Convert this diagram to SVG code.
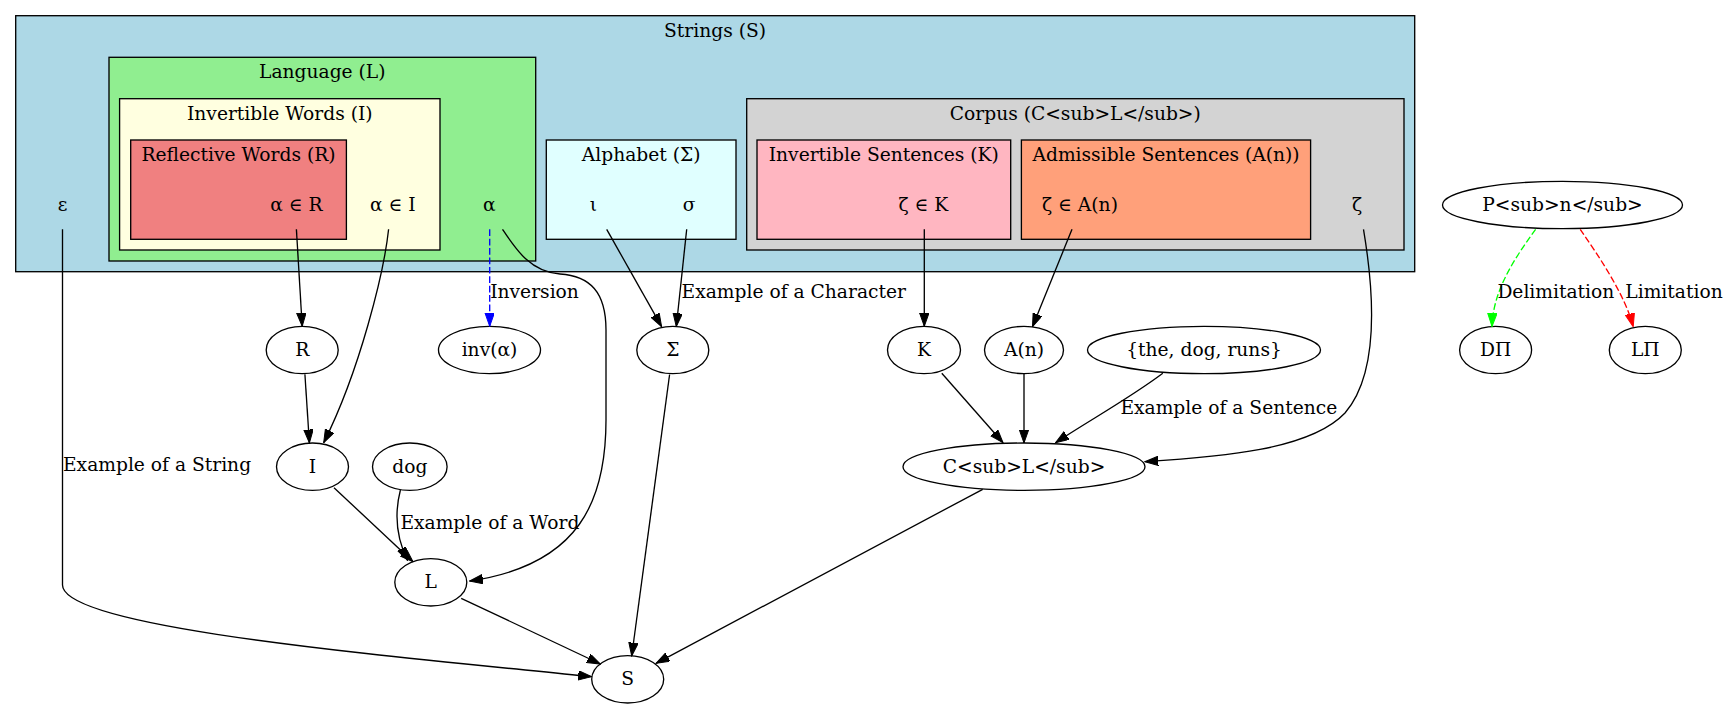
<svg xmlns="http://www.w3.org/2000/svg" width="1729" height="709" viewBox="0 0 1729 709">
<style>
text{font-family:"DejaVu Serif",serif;font-size:18.67px;fill:#000}
.c{text-anchor:middle}
.cl{stroke:#000;stroke-width:1.33}
.n ellipse{fill:#fff;stroke:#000;stroke-width:1.33}
.e{fill:none;stroke:#000;stroke-width:1.33}
.blue{stroke:#0000ff;stroke-dasharray:6.7,2.7}
.green{stroke:#00ff00;stroke-dasharray:6.7,2.7}
.red{stroke:#ff0000;stroke-dasharray:6.7,2.7}
</style>
<defs>
<marker id="ak" markerUnits="userSpaceOnUse" markerWidth="14" markerHeight="10" viewBox="0 0 14 10" refX="13.3" refY="4.7" orient="auto"><path d="M0,0 L13.3,4.7 L0,9.4 z" fill="#000" stroke="#000"/></marker>
<marker id="ab" markerUnits="userSpaceOnUse" markerWidth="14" markerHeight="10" viewBox="0 0 14 10" refX="13.3" refY="4.7" orient="auto"><path d="M0,0 L13.3,4.7 L0,9.4 z" fill="#0000ff" stroke="#0000ff"/></marker>
<marker id="ag" markerUnits="userSpaceOnUse" markerWidth="14" markerHeight="10" viewBox="0 0 14 10" refX="13.3" refY="4.7" orient="auto"><path d="M0,0 L13.3,4.7 L0,9.4 z" fill="#00ff00" stroke="#00ff00"/></marker>
<marker id="ar" markerUnits="userSpaceOnUse" markerWidth="14" markerHeight="10" viewBox="0 0 14 10" refX="13.3" refY="4.7" orient="auto"><path d="M0,0 L13.3,4.7 L0,9.4 z" fill="#ff0000" stroke="#ff0000"/></marker>
</defs>
<rect width="1729" height="709" fill="#fff"/>

<g id="cluster_S">
<rect class="cl" x="15.7" y="15.7" width="1399" height="256" fill="#add8e6"/>
<text class="c" x="715" y="36.5">Strings (S)</text>
</g>
<g id="cluster_L">
<rect class="cl" x="109" y="57.3" width="426.7" height="203.7" fill="#90ee90"/>
<text class="c" x="322.3" y="78">Language (L)</text>
</g>
<g id="cluster_I">
<rect class="cl" x="119.6" y="98.7" width="320.4" height="151.3" fill="#ffffe0"/>
<text class="c" x="279.8" y="119.5">Invertible Words (I)</text>
</g>
<g id="cluster_R">
<rect class="cl" x="130.7" y="140" width="215.7" height="99.3" fill="#f08080"/>
<text class="c" x="238.5" y="161">Reflective Words (R)</text>
</g>
<g id="cluster_Sigma">
<rect class="cl" x="546.3" y="140" width="189.7" height="99.3" fill="#e0ffff"/>
<text class="c" x="641.2" y="161">Alphabet (Σ)</text>
</g>
<g id="cluster_C">
<rect class="cl" x="746.7" y="98.7" width="657.3" height="151.3" fill="#d3d3d3"/>
<text class="c" x="1075.3" y="119.5">Corpus (C&lt;sub&gt;L&lt;/sub&gt;)</text>
</g>
<g id="cluster_K">
<rect class="cl" x="757" y="140" width="253.7" height="99.3" fill="#ffb6c1"/>
<text class="c" x="883.8" y="161">Invertible Sentences (K)</text>
</g>
<g id="cluster_A">
<rect class="cl" x="1021.4" y="140" width="289.2" height="99.3" fill="#ffa07a"/>
<text class="c" x="1166" y="161">Admissible Sentences (A(n))</text>
</g>

<g id="node_epsilon"><text class="c" x="62.5" y="210.5">ε</text></g>
<g id="node_alphaR"><text class="c" x="296.4" y="210.5">α ∈ R</text></g>
<g id="node_alphaI"><text class="c" x="392.9" y="210.5">α ∈ I</text></g>
<g id="node_alpha"><text class="c" x="489.3" y="210.5">α</text></g>
<g id="node_iota"><text class="c" x="593.3" y="210.5">ι</text></g>
<g id="node_sigma"><text class="c" x="689" y="210.5">σ</text></g>
<g id="node_zetaK"><text class="c" x="923.3" y="210.5">ζ ∈ K</text></g>
<g id="node_zetaA"><text class="c" x="1080" y="210.5">ζ ∈ A(n)</text></g>
<g id="node_zeta"><text class="c" x="1357" y="210.5">ζ</text></g>

<g id="node_P" class="n"><ellipse cx="1562.5" cy="205" rx="120" ry="23.7"/><text class="c" x="1562.5" y="211">P&lt;sub&gt;n&lt;/sub&gt;</text></g>
<g id="node_R" class="n"><ellipse cx="302.2" cy="350" rx="36" ry="23.7"/><text class="c" x="302.2" y="356">R</text></g>
<g id="node_inv" class="n"><ellipse cx="489.5" cy="350" rx="51" ry="23.7"/><text class="c" x="489.5" y="356">inv(α)</text></g>
<g id="node_Sigma" class="n"><ellipse cx="672.8" cy="350" rx="36" ry="23.7"/><text class="c" x="672.8" y="356">Σ</text></g>
<g id="node_K" class="n"><ellipse cx="924" cy="350" rx="36.5" ry="23.7"/><text class="c" x="924" y="356">K</text></g>
<g id="node_An" class="n"><ellipse cx="1024" cy="350" rx="39.5" ry="23.7"/><text class="c" x="1024" y="356">A(n)</text></g>
<g id="node_ex_sentence" class="n"><ellipse cx="1204" cy="350" rx="116.5" ry="23.7"/><text class="c" x="1204" y="356">{the, dog, runs}</text></g>
<g id="node_DPi" class="n"><ellipse cx="1495.6" cy="350" rx="36" ry="23.7"/><text class="c" x="1495.6" y="356">DΠ</text></g>
<g id="node_LPi" class="n"><ellipse cx="1645.3" cy="350" rx="36" ry="23.7"/><text class="c" x="1645.3" y="356">LΠ</text></g>
<g id="node_I" class="n"><ellipse cx="312.5" cy="466.7" rx="36" ry="23.7"/><text class="c" x="312.5" y="472.7">I</text></g>
<g id="node_dog" class="n"><ellipse cx="409.8" cy="466.7" rx="37.3" ry="23.7"/><text class="c" x="409.8" y="472.7">dog</text></g>
<g id="node_CL" class="n"><ellipse cx="1024" cy="466.7" rx="121" ry="23.7"/><text class="c" x="1024" y="472.7">C&lt;sub&gt;L&lt;/sub&gt;</text></g>
<g id="node_L" class="n"><ellipse cx="430.8" cy="582.3" rx="36" ry="23.7"/><text class="c" x="430.8" y="588.3">L</text></g>
<g id="node_S" class="n"><ellipse cx="627.7" cy="679.3" rx="36" ry="23.7"/><text class="c" x="627.7" y="685.3">S</text></g>

<g id="edges">
<path class="e" marker-end="url(#ak)" d="M62.5,229.3 L62.5,585 C62.5,628 380,655 591.5,676.7"/>
<text x="63" y="471">Example of a String</text>
<path class="e" marker-end="url(#ak)" d="M296.4,229.3 L302.2,326.3"/>
<path class="e" marker-end="url(#ak)" d="M388.6,229.3 C384,272 360,370 323.7,442.7"/>
<path class="e" marker-end="url(#ak)" d="M304.9,374.3 L309.4,442.9"/>
<path class="e" marker-end="url(#ak)" d="M334,487.7 L413,561.7"/>
<path class="e" marker-end="url(#ak)" d="M400.4,490 C394,515 396,537 407.6,560.5"/>
<text x="400.4" y="528.5">Example of a Word</text>
<path class="e" marker-end="url(#ak)" d="M502.5,229.3 C515,248 530,272 560,274 C590,276 606,292 606,330 L606,420 C606,500 580,565 469.6,581"/>
<path class="e blue" marker-end="url(#ab)" d="M489.7,229.3 L489.7,326.3"/>
<text x="490.2" y="297.5">Inversion</text>
<path class="e" marker-end="url(#ak)" d="M606.7,229.3 L661.6,326.7"/>
<path class="e" marker-end="url(#ak)" d="M686.7,229.3 L676.3,326.5"/>
<text x="681.6" y="297.5">Example of a Character</text>
<path class="e" marker-end="url(#ak)" d="M669.6,374.5 L631.7,656"/>
<path class="e" marker-end="url(#ak)" d="M461.2,598.3 L600.4,664"/>
<path class="e" marker-end="url(#ak)" d="M924.3,229.3 L924.3,326.3"/>
<path class="e" marker-end="url(#ak)" d="M1072,229.3 L1032.5,326.7"/>
<path class="e" marker-end="url(#ak)" d="M941.8,373.3 L1003,442.7"/>
<path class="e" marker-end="url(#ak)" d="M1024,373.7 L1024,443"/>
<path class="e" marker-end="url(#ak)" d="M1162.8,373.3 C1130,398 1090,420 1055.6,442.7"/>
<text x="1120.4" y="413.5">Example of a Sentence</text>
<path class="e" marker-end="url(#ak)" d="M1363.5,229.3 C1372,280 1382,370 1345,413 C1310,450 1220,457 1145,461.7"/>
<path class="e" marker-end="url(#ak)" d="M982.7,489.3 L656.1,663.3"/>
<path class="e green" marker-end="url(#ag)" d="M1535.6,229.3 C1515,258 1493,290 1492,326.5"/>
<text x="1497.4" y="297.5">Delimitation</text>
<path class="e red" marker-end="url(#ar)" d="M1580.2,229.3 C1600,258 1625,295 1633.2,326.7"/>
<text x="1625.3" y="297.5">Limitation</text>
</g>
</svg>
